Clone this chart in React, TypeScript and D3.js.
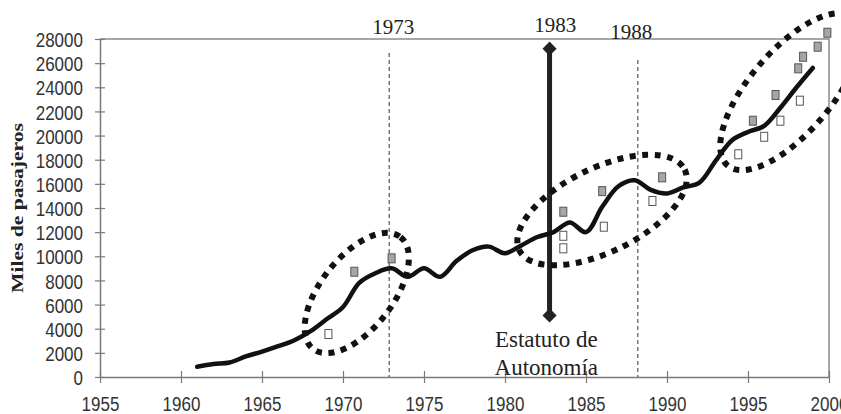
// Pasajeros (miles) 1961-1999 con eventos 1973 / 1983 / 1988
import React, { useEffect, useRef } from "react"
import * as d3 from "d3"

const years = [1961, 1962, 1963, 1964, 1965, 1966, 1967, 1968, 1969, 1970,
  1971, 1972, 1973, 1974, 1975, 1976, 1977, 1978, 1979, 1980,
  1981, 1982, 1983, 1984, 1985, 1986, 1987, 1988, 1989, 1990,
  1991, 1992, 1993, 1994, 1995, 1996, 1997, 1998, 1999]
const passengers = [850, 1080, 1200, 1700, 2100, 2550, 3050, 3800, 4800, 5800,
  7800, 8600, 9000, 8300, 9000, 8300, 9600, 10500, 10800, 10250,
  10900, 11600, 12000, 12800, 12000, 14100, 15800, 16300, 15500, 15200,
  15700, 16100, 17900, 19600, 20300, 20800, 22300, 24000, 25600]

// puntos sueltos (cuadrados grises y blancos)
const grayYears = [1970.7, 1973.0, 1983.6, 1986.0, 1989.7, 1995.3, 1996.7, 1998.1, 1998.4, 1999.3, 1999.9]
const grayValues = [8720, 9830, 13690, 15400, 16540, 21230, 23360, 25570, 26530, 27360, 28520]
const whiteYears = [1969.1, 1983.6, 1983.6, 1986.1, 1989.1, 1994.4, 1996.0, 1997.0, 1998.2]
const whiteValues = [3560, 11700, 10660, 12450, 14580, 18450, 19900, 21230, 22890]

const xTicks = [1955, 1960, 1965, 1970, 1975, 1980, 1985, 1990, 1995, 2000]
const yTicks = [0, 2000, 4000, 6000, 8000, 10000, 12000, 14000, 16000, 18000, 20000, 22000, 24000, 26000, 28000]

// líneas de eventos
const eventLabels = ["1973", "1983", "1988"]
const eventYears = [1972.85, 1982.75, 1988.2]
const eventLabelYears = [1973.1, 1983.1, 1987.8]
const eventLabelValues = [28420, 28620, 28000]
const dashedTops = [26840, 0, 26260]
const statuteRange = [5100, 27200]

// elipses punteadas: centro (año, valor)
const ellipseYears = [1970.85, 1985.99, 1997.62]
const ellipseValues = [6960, 13834, 23635]

export default function App() {
  const ref = useRef<SVGSVGElement>(null)

  useEffect(() => {
    const width = 841
    const height = 414
    const margin = { top: 39, right: 12, bottom: 37, left: 100 }

    const x = d3.scaleLinear().domain([1955, 2000]).range([margin.left, width - margin.right])
    const y = d3.scaleLinear().domain([0, 28000]).range([height - margin.bottom, margin.top])

    const svg = d3.select(ref.current)
    svg.selectAll("*").remove()
    svg.attr("width", width).attr("height", height)

    const axisColor = "#7a7a7a"
    const labelFont = "'Liberation Sans', Arial, sans-serif"
    const serif = "'Liberation Serif', 'Times New Roman', serif"

    // marco superior y derecho
    svg.append("path")
      .attr("d", `M${x(1955)},${y(28000)}H${x(2000)}V${y(0)}`)
      .attr("fill", "none")
      .attr("stroke", "#8a8a8a")
      .attr("stroke-width", 1.5)

    const xAxis = svg.append("g")
      .attr("transform", `translate(0,${y(0)})`)
      .call(d3.axisBottom(x).tickValues(xTicks).tickFormat(d3.format("d")).tickSizeOuter(0))
    xAxis.select(".domain").attr("stroke", axisColor).attr("stroke-width", 1.5)
    xAxis.selectAll(".tick line").attr("stroke", axisColor).attr("stroke-width", 1.2).attr("y1", -6).attr("y2", 6)
    xAxis.selectAll(".tick text")
      .attr("y", 34).attr("dy", null)
      .attr("transform", "scale(0.81,1)")
      .attr("fill", "#333")
      .style("font", `21px ${labelFont}`)

    const yAxis = svg.append("g")
      .attr("transform", `translate(${x(1955)},0)`)
      .call(d3.axisLeft(y).tickValues(yTicks).tickFormat(d3.format("d")).tickSizeOuter(0))
    yAxis.select(".domain").attr("stroke", axisColor).attr("stroke-width", 1.5)
    yAxis.selectAll(".tick line").attr("stroke", axisColor).attr("stroke-width", 1.2).attr("x1", -5).attr("x2", 5)
    yAxis.selectAll(".tick text")
      .attr("x", -21).attr("dy", "0.36em")
      .attr("transform", "scale(0.81,1)")
      .attr("fill", "#333")
      .style("font", `21px ${labelFont}`)

    svg.append("text")
      .attr("transform", `translate(23,${(y(0) + y(28000)) / 2}) rotate(-90)`)
      .attr("text-anchor", "middle")
      .attr("textLength", 170)
      .attr("lengthAdjust", "spacingAndGlyphs")
      .attr("fill", "#222")
      .style("font", `bold 17px ${serif}`)
      .text("Miles de pasajeros")

    // líneas verticales discontinuas 1973 y 1988
    ;[0, 2].forEach((i) => {
      svg.append("line")
        .attr("x1", x(eventYears[i])).attr("x2", x(eventYears[i]))
        .attr("y1", y(dashedTops[i])).attr("y2", y(0))
        .attr("stroke", "#333")
        .attr("stroke-width", 1)
        .attr("stroke-dasharray", "4,3")
    })

    // 1983: Estatuto de Autonomía
    const xs = x(eventYears[1])
    svg.append("line")
      .attr("x1", xs).attr("x2", xs)
      .attr("y1", y(statuteRange[0])).attr("y2", y(statuteRange[1]))
      .attr("stroke", "#222")
      .attr("stroke-width", 5)
    const diamond = d3.symbol().type(d3.symbolSquare).size(100)
    statuteRange.forEach((v) => {
      svg.append("path")
        .attr("d", diamond())
        .attr("transform", `translate(${xs},${y(v)}) rotate(45)`)
        .attr("fill", "#222")
    })

    eventLabels.forEach((t, i) => {
      svg.append("text")
        .attr("x", x(eventLabelYears[i]))
        .attr("y", y(eventLabelValues[i]))
        .attr("text-anchor", "middle")
        .attr("fill", "#222")
        .style("font", `21px ${serif}`)
        .text(t)
    })

    const statute = svg.append("text")
      .attr("text-anchor", "middle")
      .attr("fill", "#222")
      .style("font", `23px ${serif}`)
    statute.append("tspan").attr("x", x(1982.55)).attr("y", y(0) - 30).text("Estatuto de")
    statute.append("tspan").attr("x", x(1982.55)).attr("y", y(0) - 2).text("Autonomía")

    // serie principal
    const line = d3.line<number>()
      .curve(d3.curveCatmullRom)
      .x((d, i) => x(years[i]))
      .y((d) => y(d))
    svg.append("path")
      .datum(passengers)
      .attr("fill", "none")
      .attr("stroke", "#111")
      .attr("stroke-width", 4.5)
      .attr("stroke-linejoin", "round")
      .attr("stroke-linecap", "round")
      .attr("d", line)

    // cuadrados
    const marks = (ys: number[], vs: number[], fill: string) => {
      svg.append("g")
        .selectAll("rect")
        .data(ys)
        .enter()
        .append("rect")
        .attr("x", (d) => x(d) - 3.5)
        .attr("y", (d, i) => y(vs[i]) - 4.5)
        .attr("width", 7)
        .attr("height", 9)
        .attr("fill", fill)
        .attr("stroke", "#555")
        .attr("stroke-width", 1)
    }
    marks(grayYears, grayValues, "#a6a6a6")
    marks(whiteYears, whiteValues, "#fff")

    // elipses punteadas
    const radii = [[71, 36, -52], [92, 42, -26], [97, 41, -49.6]]
    ellipseYears.forEach((yr, i) => {
      svg.append("ellipse")
        .attr("cx", 0).attr("cy", 0)
        .attr("rx", radii[i][0]).attr("ry", radii[i][1])
        .attr("transform", `translate(${x(yr)},${y(ellipseValues[i])}) rotate(${radii[i][2]})`)
        .attr("fill", "none")
        .attr("stroke", "#111")
        .attr("stroke-width", 6)
        .attr("stroke-dasharray", "6,6.5")
    })
  }, [])

  return (
    <div style={{ position: "absolute", left: 0, top: 0 }}>
      <style>{"body{margin:0}"}</style>
      <svg ref={ref} style={{ display: "block", background: "#fff" }} />
    </div>
  )
}
